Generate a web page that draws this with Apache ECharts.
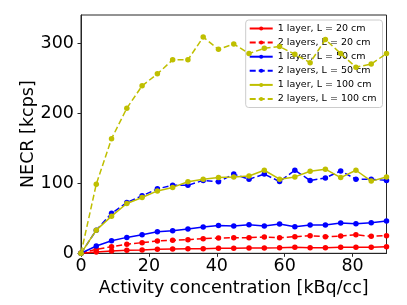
<!DOCTYPE html>
<html>
<head>
<meta charset="utf-8">
<script src="https://cdn.jsdelivr.net/npm/echarts@6/dist/echarts.min.js"></script>
<style>
html,body{margin:0;padding:0;background:#fff;}
#chart{width:407px;height:305px;}
</style>
</head>
<body>
<div id="chart"></div>
<script>
// Activity concentration [kBq/cc]
var activity = [0, 4.5, 9, 13.5, 18, 22.5, 27, 31.5, 36, 40.5, 45, 49.5, 54, 58.5, 63, 67.5, 72, 76.5, 81, 85.5, 90];

// NECR [kcps]
var oneLayer20  = [0, 1.9, 3.3, 4.3, 4.7, 5.7, 6.2, 6.6, 6.6, 7.1, 7.1, 7.6, 7.6, 8.0, 8.5, 8.0, 8.0, 8.5, 8.5, 8.5, 9.5];
var twoLayers20 = [0, 5.7, 9.5, 12.8, 15.2, 17.5, 18.5, 19.4, 20.9, 21.8, 22.3, 22.3, 23.2, 22.3, 23.7, 25.1, 23.7, 24.6, 26.5, 24.2, 25.1];
var oneLayer50  = [0, 10.4, 18, 22.7, 26.5, 30.8, 32.2, 34.6, 37.4, 39.8, 38.9, 40.8, 38.9, 41.7, 37.9, 40.3, 40.3, 43.1, 42.2, 43.6, 46];
var twoLayers50 = [0, 33, 57, 72.5, 82, 92, 97, 97, 104, 102, 113, 105.7, 113, 102.4, 118.5, 104, 107.6, 117.5, 105.7, 105.7, 104];
var oneLayer100 = [0, 33, 53, 71, 79.6, 89, 94, 102, 105.7, 108, 109, 110.4, 118.5, 105.7, 109, 117, 120, 108, 118.5, 103, 109];
var twoLayers100= [0, 98.6, 163.5, 207, 239, 256, 276, 276, 308.5, 291, 298.6, 285, 292.5, 295, 284, 272, 305, 285, 265.5, 270, 285];

// tick labels
var xTicks = [0, 20, 40, 60, 80];
var yTicks = [0, 100, 200, 300];

var seriesNames = ['1 layer, L = 20 cm', '2 layers, L = 20 cm', '1 layer, L = 50 cm', '2 layers, L = 50 cm', '1 layer, L = 100 cm', '2 layers, L = 100 cm'];
var seriesValues = [oneLayer20, twoLayers20, oneLayer50, twoLayers50, oneLayer100, twoLayers100];
var seriesColors = ['#ff0000', '#ff0000', '#0000ff', '#0000ff', '#bfbf00', '#bfbf00'];
var seriesDashed = [false, true, false, true, false, true];

var FONT = 'DejaVu Sans';

function pairs(vals) {
  return activity.map(function (x, i) { return [x, vals[i]]; });
}

var series = seriesNames.map(function (name, k) {
  return {
    name: name,
    type: 'line',
    data: pairs(seriesValues[k]),
    symbol: 'circle',
    symbolSize: 5.5,
    showSymbol: true,
    animation: false,
    color: seriesColors[k],
    itemStyle: { color: seriesColors[k] },
    lineStyle: {
      color: seriesColors[k],
      width: 1.5,
      type: seriesDashed[k] ? [6, 3] : 'solid'
    },
    z: 2 + k
  };
});

var chart = echarts.init(document.getElementById('chart'), null, { renderer: 'canvas' });
chart.setOption({
  animation: false,
  backgroundColor: '#ffffff',
  grid: {
    left: 81, right: 20.5, top: 15, bottom: 51.7,
    show: true, borderColor: '#262626', borderWidth: 1, backgroundColor: 'transparent'
  },
  legend: {
    orient: 'vertical',
    left: 245.7,
    top: 20,
    padding: [3, 6, 3, 3],
    itemWidth: 23,
    itemHeight: 5,
    itemGap: 3.1,
    backgroundColor: 'rgba(255,255,255,0.8)',
    borderColor: '#cccccc',
    borderWidth: 1,
    borderRadius: 3,
    textStyle: { fontFamily: FONT, fontSize: 9.5, color: '#000', lineHeight: 11 },
    data: seriesNames
  },
  xAxis: {
    type: 'value',
    min: 0, max: 90,
    name: 'Activity concentration [kBq/cc]',
    nameLocation: 'middle',
    nameGap: 26,
    nameMoveOverlap: false,
    nameTextStyle: { fontFamily: FONT, fontSize: 17.5, color: '#000' },
    axisLine: { show: true, onZero: false, lineStyle: { color: '#262626', width: 1 } },
    axisTick: { show: true, length: 3.5, lineStyle: { color: '#262626', width: 1 }, customValues: xTicks },
    axisLabel: { fontFamily: FONT, fontSize: 17.5, color: '#000', margin: 4, customValues: xTicks },
    splitLine: { show: false }
  },
  yAxis: {
    type: 'value',
    min: 0, max: 340,
    name: 'NECR [kcps]',
    nameLocation: 'middle',
    nameGap: 44,
    nameMoveOverlap: false,
    nameRotate: 90,
    nameTextStyle: { fontFamily: FONT, fontSize: 17.5, color: '#000' },
    axisLine: { show: true, onZero: false, lineStyle: { color: '#262626', width: 1 } },
    axisTick: { show: true, length: 3.5, lineStyle: { color: '#262626', width: 1 }, customValues: yTicks },
    axisLabel: { fontFamily: FONT, fontSize: 17.5, color: '#000', margin: 7, customValues: yTicks },
    splitLine: { show: false }
  },
  series: series
});
</script>
</body>
</html>
